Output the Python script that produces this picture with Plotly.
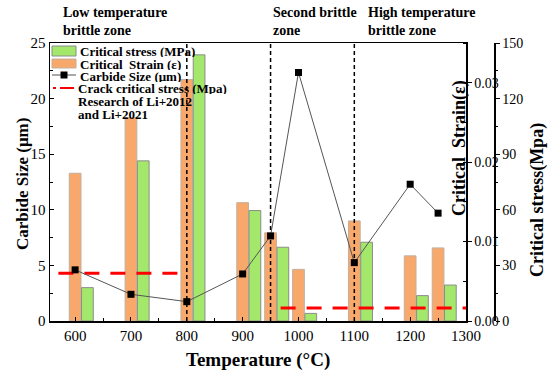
import plotly.graph_objects as go

# ---- data ----
temperature = [600, 700, 800, 900, 950, 1000, 1100, 1200, 1250]
critical_strain = [0.0186, 0.0256, 0.0304, 0.0149, 0.0111, 0.0065, 0.0126, 0.0082, 0.0092]
critical_stress = [18.0, 86.4, 143.6, 59.6, 39.8, 4.1, 42.5, 13.7, 19.4]
carbide_size = [4.6, 2.4, 1.74, 4.23, 7.65, 22.35, 5.25, 12.3, 9.7]
crack_x_low = [570, 800]
crack_stress_low = [25.8, 25.8]
crack_x_high = [968, 1300]
crack_stress_high = [7.0, 7.0]
zone_bounds = [800, 950, 1100]
x_ticks = [600, 700, 800, 900, 1000, 1100, 1200, 1300]
strain_ticks = [0.0, 0.01, 0.02, 0.03]
strain_ticktext = ["0.00", "0.01", "0.02", "0.03"]

FONT = "Liberation Serif"
W, H = 550, 379
ML, MR, MT, MB = 50, 56, 43, 58
PLOT_RIGHT = 466
paper_w = W - ML - MR
paper_h = H - MT - MB

GREEN = "#A3E86A"
ORANGE = "#F8A86A"
RED = "#FF0000"
NB = "\u00a0"


def px_x(p):
    return (p - ML) / paper_w


def px_y(p):
    return (H - MB - p) / paper_h


fig = go.Figure()

fig.add_trace(go.Bar(
    x=temperature, y=critical_stress, name="Critical stress (MPa)", yaxis="y2",
    width=21, offset=11.5,
    marker=dict(color=GREEN, line=dict(color="#8c8c8c", width=1)),
))
fig.add_trace(go.Bar(
    x=temperature, y=critical_strain, name="Critical  Strain (ε)", yaxis="y",
    width=21, offset=-10.5,
    marker=dict(color=ORANGE, line=dict(color="#c0b0a0", width=1)),
))
fig.add_trace(go.Scatter(
    x=temperature, y=carbide_size, name="Carbide Size (μm)", yaxis="y3",
    mode="lines+markers",
    line=dict(color="#555555", width=1),
    marker=dict(symbol="square", size=7, color="black"),
))
fig.add_trace(go.Scatter(
    x=crack_x_low, y=crack_stress_low, yaxis="y2",
    name="Crack critical stress (Mpa)",
    mode="lines", line=dict(color=RED, width=3, dash="15px,11px"),
))
fig.add_trace(go.Scatter(
    x=crack_x_high, y=crack_stress_high, yaxis="y2",
    mode="lines", line=dict(color=RED, width=3, dash="15px,11px"),
))

for xb in zone_bounds:
    fig.add_shape(type="line", x0=xb, x1=xb, y0=0, y1=1, xref="x", yref="paper",
                  line=dict(color="black", width=1.5, dash="4px,3px"), layer="above")

tickfont = dict(family=FONT, size=15, color="black")

fig.update_layout(
    width=W, height=H,
    margin=dict(l=ML, r=MR, t=MT, b=MB, autoexpand=False),
    paper_bgcolor="white", plot_bgcolor="white",
    font=dict(family=FONT, color="black"),
    barmode="overlay",
    showlegend=False,
    hovermode=False,
    xaxis=dict(
        domain=[0, (PLOT_RIGHT - ML) / paper_w], range=[555, 1300],
        tickvals=x_ticks, ticks="inside", ticklen=4, tickcolor="black",
        minor=dict(dtick=50, tick0=600, ticks="inside", ticklen=3, tickcolor="black"),
        showline=True, linecolor="black", linewidth=1.5, mirror=True,
        showgrid=False, zeroline=False, tickfont=tickfont, automargin=False,
    ),
    yaxis=dict(
        side="right", anchor="x", range=[0, 0.035],
        tickvals=strain_ticks, ticktext=strain_ticktext,
        ticks="outside", ticklen=4, tickcolor="black",
        minor=dict(dtick=0.005, ticks="inside", ticklen=3, tickcolor="black"),
        showline=True, linecolor="black", linewidth=1.5,
        showgrid=False, zeroline=False, tickfont=dict(family=FONT, size=14),
        automargin=False,
    ),
    yaxis2=dict(
        side="right", overlaying="y", anchor="free", position=1.0, range=[0, 150],
        dtick=30, ticks="outside", ticklen=4, tickcolor="black",
        minor=dict(dtick=15, ticks="outside", ticklen=2, tickcolor="black"),
        showline=True, linecolor="black", linewidth=1.5,
        showgrid=False, zeroline=False, tickfont=dict(family=FONT, size=14),
        automargin=False,
    ),
    yaxis3=dict(
        side="left", overlaying="y", anchor="x", range=[0, 25],
        dtick=5, ticks="inside", ticklen=4, tickcolor="black",
        minor=dict(dtick=2.5, ticks="inside", ticklen=3, tickcolor="black"),
        showline=True, linecolor="black", linewidth=1.5,
        showgrid=False, zeroline=False, tickfont=tickfont, automargin=False,
    ),
)

# ---- zone headers ----
headers = [
    ("Low temperature<br>brittle zone", 61),
    ("Second brittle<br>zone", 271),
    ("High temperature<br>brittle zone", 366),
]
for txt, xp in headers:
    fig.add_annotation(text=txt, xref="paper", yref="paper", x=px_x(xp), y=px_y(3),
                       xanchor="left", yanchor="top", align="left", showarrow=False,
                       font=dict(family=FONT, size=14, weight="bold", color="black"))

# ---- axis titles ----
titles = [
    ("Carbide Size (μm)", 22, 184, -90, 17),
    ("Temperature (°C)", 258, 360, 0, 19),
    ("Critical" + NB * 2 + "Strain(ε)", 459, 148, -90, 18),
    ("Critical stress(Mpa)", 537, 200, -90, 18),
]
for txt, xp, yp, ang, fs in titles:
    fig.add_annotation(text=txt, xref="paper", yref="paper", x=px_x(xp), y=px_y(yp),
                       xanchor="center", yanchor="middle", textangle=ang,
                       showarrow=False,
                       font=dict(family=FONT, size=fs, color="black", weight="bold"))

# ---- hand-built legend (compact, like the reference) ----
leg_font = dict(family=FONT, size=13, weight="bold", color="black")
fig.add_shape(type="rect", xref="paper", yref="paper",
              x0=px_x(52), x1=px_x(76), y0=px_y(56), y1=px_y(46),
              fillcolor=GREEN, line=dict(color="#8c8c8c", width=1))
fig.add_shape(type="rect", xref="paper", yref="paper",
              x0=px_x(52), x1=px_x(76), y0=px_y(68), y1=px_y(59),
              fillcolor=ORANGE, line=dict(color="#c0b0a0", width=1))
fig.add_shape(type="line", xref="paper", yref="paper",
              x0=px_x(52), x1=px_x(76), y0=px_y(75), y1=px_y(75),
              line=dict(color="#555555", width=1))
fig.add_shape(type="rect", xref="paper", yref="paper",
              x0=px_x(60.5), x1=px_x(67.5), y0=px_y(78.5), y1=px_y(71.5),
              fillcolor="black", line=dict(color="black", width=0))
fig.add_shape(type="line", xref="paper", yref="paper",
              x0=px_x(53), x1=px_x(56), y0=px_y(88), y1=px_y(88),
              line=dict(color=RED, width=2))
fig.add_shape(type="line", xref="paper", yref="paper",
              x0=px_x(60), x1=px_x(74), y0=px_y(88), y1=px_y(88),
              line=dict(color=RED, width=2))

legend_rows = [
    ("Critical stress (MPa)", 78, 51),
    ("Critical" + NB * 2 + "Strain (ε)", 78, 63.5),
    ("Carbide Size (μm)", 78, 75.5),
    ("Crack critical stress (Mpa)", 76, 88),
    ("Research of Li+2012", 75.5, 101),
    ("and Li+2021", 75.5, 113.5),
]
for txt, xp, yp in legend_rows:
    fig.add_annotation(text=txt, xref="paper", yref="paper", x=px_x(xp), y=px_y(yp),
                       xanchor="left", yanchor="middle", showarrow=False,
                       height=12, font=leg_font)

fig.write_html("out.html", config={"displayModeBar": False, "staticPlot": True},
               post_script="document.body.style.margin='0px';")
